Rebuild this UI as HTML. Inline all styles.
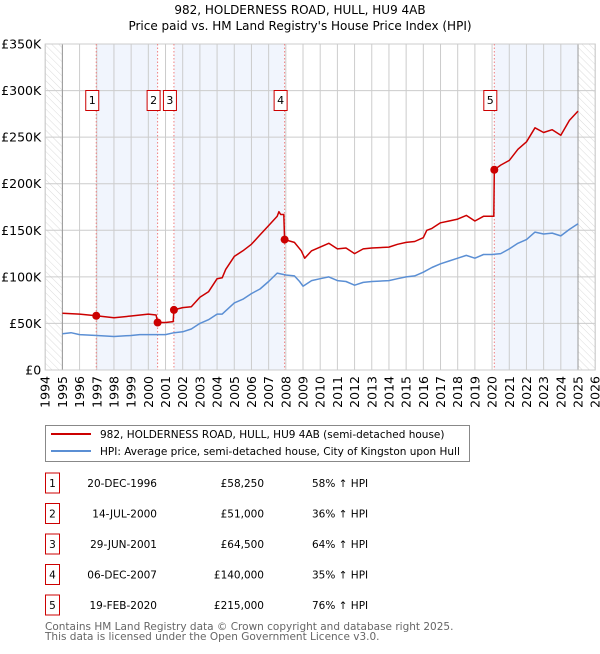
<!DOCTYPE html>
<html><head><meta charset="utf-8"><style>
body{margin:0;background:#fff;font-family:"DejaVu Sans","Liberation Sans",sans-serif;}
svg text{font-family:"DejaVu Sans","Liberation Sans",sans-serif;}
</style></head><body>
<svg id="chart" width="600" height="650" viewBox="0 0 600 650" xmlns="http://www.w3.org/2000/svg">
<defs><pattern id="hatch" width="5" height="5" patternUnits="userSpaceOnUse" patternTransform="rotate(-45)"><line x1="0" y1="0" x2="0" y2="5" stroke="#ccc" stroke-width="0.7"/></pattern></defs>
<text x="300" y="14" text-anchor="middle" font-size="12">982, HOLDERNESS ROAD, HULL, HU9 4AB</text>
<text x="300" y="30" text-anchor="middle" font-size="12">Price paid vs. HM Land Registry's House Price Index (HPI)</text>
<g id="plot"></g>
<g>
<rect x="45.5" y="425.5" width="424" height="36" fill="#fff" stroke="#888"/>
<line x1="51" y1="434" x2="91" y2="434" stroke="#cc0000" stroke-width="2"/>
<text x="100" y="438" font-size="10.5">982, HOLDERNESS ROAD, HULL, HU9 4AB (semi-detached house)</text>
<line x1="51" y1="451" x2="91" y2="451" stroke="#5b8fd4" stroke-width="2"/>
<text x="100" y="455" font-size="10.5">HPI: Average price, semi-detached house, City of Kingston upon Hull</text>
</g>
<g id="table"></g>
<text x="45" y="630" font-size="10.5" fill="#666">Contains HM Land Registry data © Crown copyright and database right 2025.</text>
<text x="45" y="640" font-size="10.5" fill="#666">This data is licensed under the Open Government Licence v3.0.</text>
</svg>
<script>
const saleNums=["1","2","3","4","5"];
const saleDates=[1996.97,2000.54,2001.49,2007.93,2020.13];
const salePrices=[58.25,51,64.5,140,215];
const saleDateLabels=["20-DEC-1996","14-JUL-2000","29-JUN-2001","06-DEC-2007","19-FEB-2020"];
const salePriceLabels=["£58,250","£51,000","£64,500","£140,000","£215,000"];
const saleHpiLabels=["58% ↑ HPI","36% ↑ HPI","64% ↑ HPI","35% ↑ HPI","76% ↑ HPI"];
const yTicks=[0,50,100,150,200,250,300,350];
const yTickLabels=["£0","£50K","£100K","£150K","£200K","£250K","£300K","£350K"];
const hpiT=[1995,1995.5,1996,1997,1998,1999,1999.5,2000,2001,2001.5,2002,2002.5,2003,2003.5,2004,2004.3,2005,2005.5,2006,2006.5,2007,2007.5,2008,2008.5,2008.8,2009,2009.5,2010,2010.5,2011,2011.5,2012,2012.5,2013,2014,2014.5,2015,2015.5,2016,2016.5,2017,2017.5,2018,2018.5,2019,2019.5,2020,2020.5,2021,2021.5,2022,2022.5,2023,2023.5,2024,2024.5,2025];
const hpiV=[39,40,38,37,36,37,38,38,38,40,41,44,50,54,60,60,72,76,82,87,95,104,102,101,95,90,96,98,100,96,95,91,94,95,96,98,100,101,105,110,114,117,120,123,120,124,124,125,130,136,140,148,146,147,144,151,157];
const ppT=[1995,1996,1996.97,1998,1999,2000,2000.45,2000.54,2001,2001.45,2001.49,2002,2002.5,2003,2003.5,2004,2004.3,2004.5,2005,2005.5,2006,2006.5,2007,2007.5,2007.6,2007.7,2007.88,2007.93,2008.5,2008.9,2009.1,2009.5,2010,2010.5,2011,2011.5,2012,2012.5,2013,2014,2014.5,2015,2015.5,2016,2016.2,2016.5,2017,2017.5,2018,2018.5,2019,2019.5,2020.1,2020.13,2020.5,2021,2021.5,2022,2022.5,2023,2023.5,2024,2024.5,2025];
const ppV=[61,60,58.25,56,58,60,59,51,51,52,64.5,67,68,78,84,98,99,108,122,128,135,145,155,165,170,167,167,140,137,128,120,128,132,136,130,131,125,130,131,132,135,137,138,142,150,152,158,160,162,166,160,165,165,215,220,225,237,245,260,255,258,252,268,278];
const yearTicks=[];for(let y=1994;y<=2026;y++)yearTicks.push(y);
const NS="http://www.w3.org/2000/svg";
const X0=45.2,X1=595.2,Y0=370,Y1=44;
function xs(t){return X0+(t-1994)/32*(X1-X0);}
function ys(v){return Y0-v/350*(Y0-Y1);}
function mk(tag,attrs,parent){const e=document.createElementNS(NS,tag);for(const k in attrs)e.setAttribute(k,attrs[k]);parent.appendChild(e);return e;}
const g=document.getElementById('plot');
let h1=mk('rect',{x:xs(1994),y:Y1,width:xs(1995)-xs(1994),height:Y0-Y1,fill:'url(#hatch)'},g);


let h2=mk('rect',{x:xs(2025),y:Y1,width:xs(2026)-xs(2025),height:Y0-Y1,fill:'url(#hatch)'},g);


const bands=[[0,1],[2,3],[4,5]];
bands.forEach((b,i)=>{const a=saleDates[b[0]];const e=b[1]<saleDates.length?saleDates[b[1]]:2025;
 const r=mk('rect',{x:xs(a),y:Y1,width:xs(e)-xs(a),height:Y0-Y1,fill:'#eef3fc',opacity:0.8},g);
 
 });
yearTicks.forEach(y=>{mk('line',{x1:xs(y),y1:Y1,x2:xs(y),y2:Y0,stroke:'#cccccc','stroke-width':1},g);
 const t=mk('text',{x:0,y:0,'font-size':12.5,'text-anchor':'end',transform:`translate(${xs(y)+4.5},${Y0+6}) rotate(-90)`},g);t.textContent=y;
 
 });
yTicks.forEach((v,i)=>{mk('line',{x1:X0,y1:ys(v),x2:X1,y2:ys(v),stroke:'#cccccc','stroke-width':1},g);
 const t=mk('text',{x:X0-4,y:ys(v)+4.5,'font-size':12.5,'text-anchor':'end'},g);t.textContent=yTickLabels[i];
 
 });
mk('line',{x1:xs(1995),y1:Y1,x2:xs(1995),y2:Y0,stroke:'#999'},g);
mk('line',{x1:xs(2025),y1:Y1,x2:xs(2025),y2:Y0,stroke:'#999'},g);
mk('rect',{x:X0,y:Y1,width:X1-X0,height:Y0-Y1,fill:'none',stroke:'#cccccc'},g);
saleDates.forEach((d,i)=>{const l=mk('line',{x1:xs(d),y1:Y1,x2:xs(d),y2:Y0,stroke:'#f08080','stroke-dasharray':'1.5,2','stroke-width':1},g);
 
 });
function path(T,V,col,name){let d='';T.forEach((t,i)=>{d+=(i?'L':'M')+xs(t).toFixed(1)+','+ys(V[i]).toFixed(1);});
 const p=mk('path',{d:d,fill:'none',stroke:col,'stroke-width':1.5,'stroke-linejoin':'round'},g);
 
 }
path(hpiT,hpiV,'#5b8fd4','hpi-line');
path(ppT,ppV,'#cc0000','price-paid-line');
saleDates.forEach((d,i)=>{const c=mk('circle',{cx:xs(d),cy:ys(salePrices[i]),r:4,fill:'#cc0000'},g);
 
 
 const bx=xs(d)-10.5;
 const r=mk('rect',{x:bx,y:90.5,width:13,height:20,fill:'#fff',stroke:'#cc0000'},g);
 
 
 const t=mk('text',{x:bx+6.5,y:104,'font-size':11,'text-anchor':'middle'},g);t.textContent=saleNums[i];});
const tb=document.getElementById('table');
saleNums.forEach((n,i)=>{const cy=483+i*30.5;
 const r=mk('rect',{x:45.5,y:cy-10,width:14,height:20,fill:'#fff',stroke:'#cc0000'},tb);
 
 
 let t=mk('text',{x:52.5,y:cy+4,'font-size':10.5,'text-anchor':'middle'},tb);t.textContent=n;
 t=mk('text',{x:157,y:cy+4,'font-size':10.5,'text-anchor':'end'},tb);t.textContent=saleDateLabels[i];
 
 
 t=mk('text',{x:264,y:cy+4,'font-size':10.5,'text-anchor':'end'},tb);t.textContent=salePriceLabels[i];
 
 
 t=mk('text',{x:312,y:cy+4,'font-size':10.5},tb);t.textContent=saleHpiLabels[i];
 
 });
</script>
</body></html>
